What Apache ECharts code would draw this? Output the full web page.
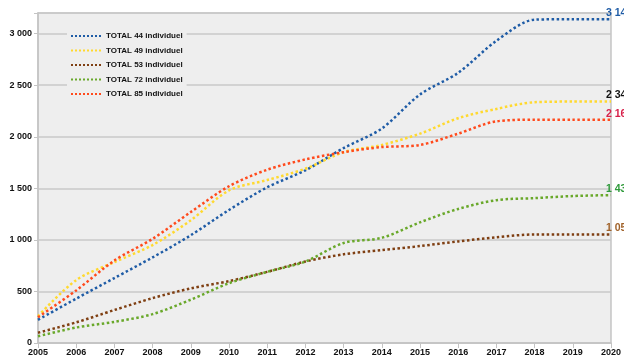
<!DOCTYPE html>
<html>
<head>
<meta charset="UTF-8">
<title>TOTAL individuel</title>
<script src="https://cdn.jsdelivr.net/npm/echarts@6/dist/echarts.min.js"></script>
<style>
  html, body { margin: 0; padding: 0; background: #fff; }
  #main { width: 624px; height: 358px; }
</style>
</head>
<body>
<div id="main"></div>
<script>
  // Years on the x axis
  var years = ['2005','2006','2007','2008','2009','2010','2011','2012',
               '2013','2014','2015','2016','2017','2018','2019','2020'];

  // Values
  var total44 = [225, 430, 630, 830, 1045, 1290, 1510, 1675, 1890, 2080, 2410, 2620, 2930, 3135, 3140, 3140];
  var total49 = [260, 610, 785, 950, 1190, 1480, 1580, 1690, 1850, 1920, 2030, 2180, 2270, 2335, 2341, 2341];
  var total53 = [100, 200, 320, 435, 530, 600, 690, 790, 860, 900, 940, 985, 1025, 1053, 1053, 1053];
  var total72 = [65, 150, 205, 280, 420, 580, 690, 790, 970, 1020, 1170, 1300, 1385, 1405, 1425, 1434];
  var total85 = [250, 510, 800, 1010, 1270, 1520, 1680, 1780, 1850, 1900, 1920, 2030, 2150, 2165, 2165, 2165];

  var chart = echarts.init(document.getElementById('main'));

  function fmt(v) {
    return String(v).replace(/\B(?=(\d{3})+(?!\d))/g, ' ');
  }

  function makeSeries(name, data, color, labelColor) {
    return {
      name: name,
      type: 'line',
      data: data,
      smooth: 0.3,
      symbol: 'none',
      lineStyle: { color: color, width: 2.5, type: 'dotted' },
      itemStyle: { color: color },
      endLabel: {
        show: true,
        offset: [-13, -6],
        color: labelColor,
        fontFamily: 'Liberation Sans, Arial',
        fontWeight: 'bold',
        fontSize: 10.5,
        formatter: function (p) { return fmt(p.value); }
      }
    };
  }

  var option = {
    backgroundColor: '#ffffff',
    animation: false,
    grid: {
      left: 38, right: 8, top: 13, bottom: 15,
      show: true,
      backgroundColor: '#eeeeee',
      borderColor: '#c4c4c4',
      borderWidth: 1.5
    },
    legend: {
      orient: 'vertical',
      left: 67,
      top: 29,
      itemWidth: 32,
      itemHeight: 10,
      itemGap: 4.5,
      backgroundColor: '#eeeeee',
      padding: [2, 4, 2, 3],
      itemStyle: { opacity: 0 },
      textStyle: {
        fontFamily: 'Liberation Sans, Arial',
        fontWeight: 'bold',
        fontSize: 8,
        lineHeight: 10,
        color: '#111',
        padding: [0, 0, 0, -2]
      },
      data: ['TOTAL 44 individuel', 'TOTAL 49 individuel', 'TOTAL 53 individuel',
             'TOTAL 72 individuel', 'TOTAL 85 individuel']
    },
    xAxis: {
      type: 'category',
      data: years,
      boundaryGap: false,
      axisLine: { lineStyle: { color: '#c4c4c4', width: 1.5 } },
      axisTick: { show: true, alignWithLabel: true, lineStyle: { color: '#c4c4c4' } },
      axisLabel: {
        color: '#111',
        fontFamily: 'Liberation Sans, Arial',
        fontWeight: 'bold',
        fontSize: 9,
        margin: 5
      },
      splitLine: { show: false }
    },
    yAxis: {
      type: 'value',
      min: 0,
      max: 3200,
      interval: 500,
      axisLine: { show: true, lineStyle: { color: '#c4c4c4', width: 1.5 } },
      axisTick: { show: true, length: 4, lineStyle: { color: '#c4c4c4' } },
      axisLabel: {
        color: '#111',
        fontFamily: 'Liberation Sans, Arial',
        fontWeight: 'bold',
        fontSize: 9,
        margin: 6,
        formatter: function (v) { return v === 3200 ? '' : fmt(v); }
      },
      splitLine: { lineStyle: { color: '#c8c8c8', width: 1.5 } }
    },
    series: [
      makeSeries('TOTAL 44 individuel', total44, '#1f5ca6', '#1f5ca6'),
      makeSeries('TOTAL 49 individuel', total49, '#ffd92f', '#111111'),
      makeSeries('TOTAL 53 individuel', total53, '#7f3f12', '#a0622a'),
      makeSeries('TOTAL 72 individuel', total72, '#69a82a', '#2e9a3a'),
      makeSeries('TOTAL 85 individuel', total85, '#ff4a1c', '#d8204a')
    ]
  };

  chart.setOption(option);
</script>
</body>
</html>
